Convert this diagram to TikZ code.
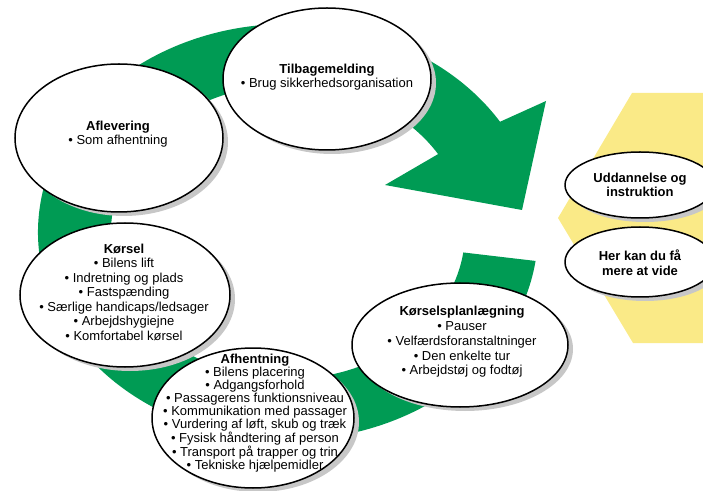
\documentclass[tikz,border=0pt]{standalone}
\usepackage{fontspec}
\setmainfont{Liberation Sans}
\usetikzlibrary{shapes.geometric,shadows}
\definecolor{ringgreen}{RGB}{0,155,84}
\definecolor{infoyellow}{RGB}{250,234,135}

\begin{document}
\begin{tikzpicture}[
    x=1pt, y=1pt,
    bubble/.style={ellipse, draw, line width=1.5pt, fill=white, inner sep=0pt,
      drop shadow={shadow xshift=5pt, shadow yshift=-4pt, fill=black!22, opacity=1}},
    bubbletext/.style={align=center, font=\fontsize{13}{#1}\selectfont}
]
  \useasboundingbox (0,0) rectangle (703,490);
  % yellow panel behind the two small bubbles
  \fill[infoyellow] (632,397) -- (720,397) -- (720,147) -- (633,147) -- (558,272) -- cycle;
  % the ring with its arrow head
  \coordinate (mid) at (288,258);
  \fill[ringgreen] ([shift={(mid)}]-8:250 and 208)
    arc[start angle=-8, end angle=-328, x radius=250, y radius=208]
    -- (546,389) -- (522,280) -- (385,305)
    -- ([shift={(mid)}]32:177 and 147)
    arc[start angle=32, end angle=352, x radius=177, y radius=147] -- cycle;

  \node[bubble, minimum width=208, minimum height=142] (tilb) at (327,411) {};
  \node[bubbletext=13.5] (tilb-txt) at (327,413)
    {\textbf{Tilbagemelding}\\• Brug sikkerhedsorganisation};

  \node[bubble, minimum width=208, minimum height=148] (aflev) at (119,352) {};
  \node[bubbletext=14.5] (aflev-txt) at (118,356)
    {\textbf{Aflevering}\\• Som afhentning};

  \node[bubble, minimum width=210, minimum height=144] (korsel) at (125,195) {};
  \node[bubbletext=14.5] (korsel-txt) at (124,198)
    {\textbf{Kørsel}\\• Bilens lift\\• Indretning og plads\\• Fastspænding\\
     • Særlige handicaps/ledsager\\• Arbejdshygiejne\\• Komfortabel kørsel};

  \node[bubble, minimum width=202, minimum height=140] (afhent) at (253,72) {};
  \node[bubbletext=13] (afhent-txt) at (255,77)
    {\textbf{Afhentning}\\• Bilens placering\\• Adgangsforhold\\• Passagerens funktionsniveau\\
     • Kommunikation med passager\\• Vurdering af løft, skub og træk\\
     • Fysisk håndtering af person\\• Transport på trapper og trin\\• Tekniske hjælpemidler};

  \node[bubble, minimum width=216, minimum height=124] (plan) at (460,145) {};
  \node[bubbletext=14.7] (plan-txt) at (462,148)
    {\textbf{Kørselsplanlægning}\\• Pauser\\• Velfærdsforanstaltninger\\
     • Den enkelte tur\\• Arbejdstøj og fodtøj};

  \node[bubble, minimum width=150, minimum height=66] (uddan) at (640,305) {};
  \node[bubbletext=13.5, font=\fontsize{13}{13.5}\selectfont\bfseries] (uddan-txt) at (640,305)
    {Uddannelse og\\instruktion};

  \node[bubble, minimum width=150, minimum height=70] (merevide) at (640,228) {};
  \node[bubbletext=15, font=\fontsize{13}{15}\selectfont\bfseries] (merevide-txt) at (640,227.5)
    {Her kan du få\\mere at vide};
\end{tikzpicture}
\end{document}
